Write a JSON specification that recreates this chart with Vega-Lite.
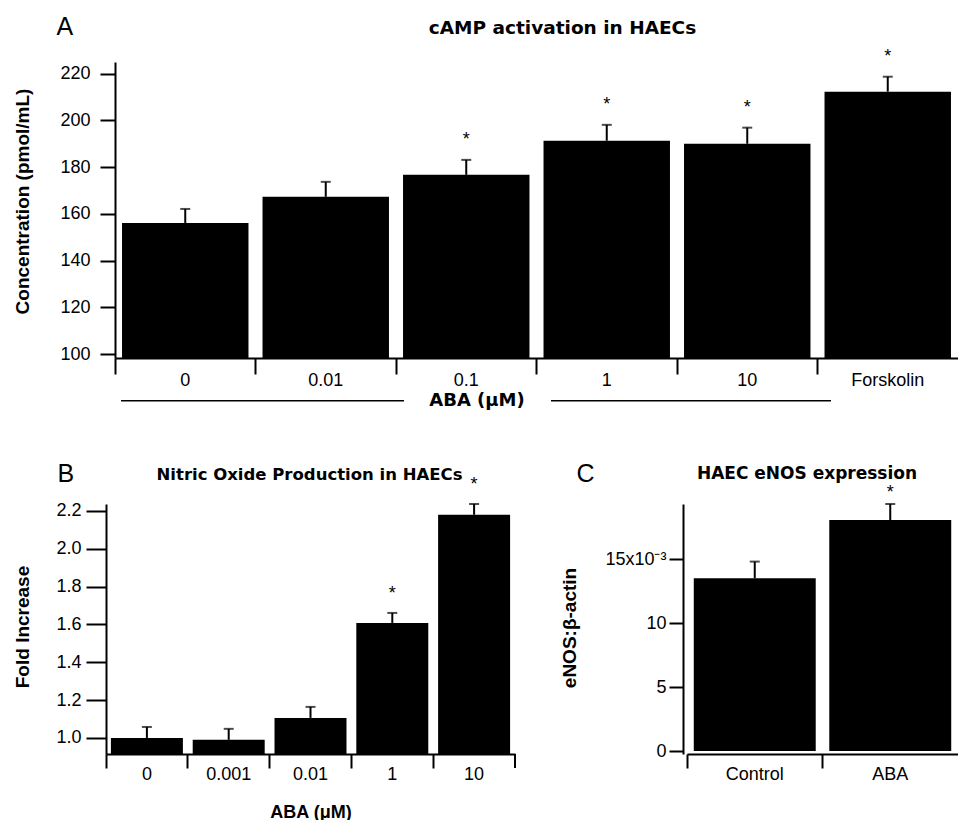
{
  "$schema": "https://vega.github.io/schema/vega-lite/v6.json",
  "padding": {"left": 12, "top": 14, "right": 0, "bottom": 0},
  "background": "white",
  "config": {
    "font": "Liberation Sans",
    "view": {"stroke": null},
    "axis": {"grid": false, "domainColor": "black", "tickColor": "black", "labelColor": "black", "titleColor": "black", "domainWidth": 2, "tickWidth": 2, "labelFont": "Liberation Sans", "labelFontSize": 18, "titleFont": "Liberation Sans", "titleFontSize": 19, "titleFontWeight": "bold"}
  },
  "columns": 1,
  "align": "none",
  "spacing": 52,
  "concat": [
    {
      "width": 843,
      "height": 296,
      "data": {"values": [
        {"dose": "0", "mean": 156.1, "hi": 162.1, "sig": ""},
        {"dose": "0.01", "mean": 167.3, "hi": 173.7, "sig": ""},
        {"dose": "0.1", "mean": 176.7, "hi": 183.1, "sig": "*"},
        {"dose": "1", "mean": 191.3, "hi": 198.1, "sig": "*"},
        {"dose": "10", "mean": 190.0, "hi": 196.9, "sig": "*"},
        {"dose": "Forskolin", "mean": 212.3, "hi": 218.7, "sig": "*"}
      ]},
      "layer": [
        {"mark": {"type": "bar", "color": "black", "width": {"band": 0.9}},
         "encoding": {
           "x": {"field": "dose", "type": "nominal", "sort": null, "scale": {"paddingInner": 0, "paddingOuter": 0},
             "axis": {"labelAngle": 0, "bandPosition": 0, "tickSize": 16, "labelPadding": -3, "title": "ABA (μM)", "titleFont": "DejaVu Sans", "titleFontSize": 18, "titleX": 361.5, "titleY": 33, "titleBaseline": "top", "titleAlign": "center"}},
           "y": {"field": "mean", "type": "quantitative", "scale": {"domain": [98.3, 225], "nice": false, "zero": false},
             "axis": {"values": [100, 120, 140, 160, 180, 200, 220], "tickSize": 15, "labelPadding": 10, "title": "Concentration (pmol/mL)", "titleX": -83, "titleY": 139, "titleBaseline": "bottom"}},
           "y2": {"datum": 98.3}}},
        {"mark": {"type": "rule", "color": "black", "strokeWidth": 2},
         "encoding": {
           "x": {"field": "dose", "type": "nominal", "sort": null, "scale": {"paddingInner": 0, "paddingOuter": 0}, "axis": null},
           "y": {"field": "mean", "type": "quantitative", "scale": {"domain": [98.3, 225], "nice": false, "zero": false}, "axis": null},
           "y2": {"field": "hi"}}},
        {"mark": {"type": "tick", "color": "black", "thickness": 2, "size": 10},
         "encoding": {
           "x": {"field": "dose", "type": "nominal", "sort": null, "scale": {"paddingInner": 0, "paddingOuter": 0}, "axis": null},
           "y": {"field": "hi", "type": "quantitative", "scale": {"domain": [98.3, 225], "nice": false, "zero": false}, "axis": null}}},
        {"mark": {"type": "text", "baseline": "alphabetic", "fontSize": 18, "dy": -15, "color": "black"},
         "encoding": {
           "x": {"field": "dose", "type": "nominal", "sort": null, "scale": {"paddingInner": 0, "paddingOuter": 0},
             "axis": {"orient": "top", "domain": false, "ticks": false, "labels": false, "title": "cAMP activation in HAECs", "titleFont": "DejaVu Sans", "titleFontSize": 18.5, "titleFontWeight": "bold", "titleX": 447, "titleY": -29, "titleAlign": "center", "titleBaseline": "alphabetic", "titleAngle": 0}},
           "y": {"field": "hi", "type": "quantitative", "scale": {"domain": [98.3, 225], "nice": false, "zero": false},
             "axis": {"orient": "left", "domain": false, "ticks": false, "labels": false, "title": "A", "titleFontSize": 25, "titleFontWeight": "normal", "titleAngle": 0, "titleX": -59, "titleY": -28, "titleAlign": "left", "titleBaseline": "alphabetic"}},
           "text": {"field": "sig"}}},
        {"data": {"values": [{"start": 0.043, "end": 2.057}, {"start": 3.103, "end": 5.096}]},
         "mark": {"type": "rule", "color": "black", "strokeWidth": 1.5},
         "encoding": {
           "x": {"field": "start", "type": "quantitative", "scale": {"domain": [0, 6], "nice": false, "zero": false}, "axis": null},
           "x2": {"field": "end"},
           "y": {"datum": 80, "scale": {"domain": [98.3, 225], "nice": false, "zero": false}, "axis": null}}}
      ],
      "resolve": {"scale": {"x": "independent"}, "axis": {"x": "independent", "y": "independent"}}
    },
    {
      "columns": 2,
      "align": "none",
      "spacing": 35,
      "concat": [
        {
          "width": 400,
          "height": 250,
          "data": {"values": [
            {"dose": "0", "mean": 1.0, "hi": 1.058, "sig": ""},
            {"dose": "0.001", "mean": 0.99, "hi": 1.048, "sig": ""},
            {"dose": "0.01", "mean": 1.106, "hi": 1.164, "sig": ""},
            {"dose": "1", "mean": 1.608, "hi": 1.661, "sig": "*"},
            {"dose": "10", "mean": 2.18, "hi": 2.237, "sig": "*"}
          ]},
          "layer": [
            {"mark": {"type": "bar", "color": "black", "width": {"band": 0.88}},
             "encoding": {
               "x": {"field": "dose", "type": "nominal", "sort": null, "scale": {"paddingInner": 0, "paddingOuter": 0, "range": [-9, 400]},
                 "axis": {"labelAngle": 0, "bandPosition": 0, "tickSize": 14, "labelPadding": -3, "title": "ABA (μM)", "titleFontSize": 18, "titleY": 49, "titleBaseline": "top"}},
               "y": {"field": "mean", "type": "quantitative", "scale": {"domain": [0.915, 2.237], "nice": false, "zero": false},
                 "axis": {"offset": 9, "values": [1.0, 1.2, 1.4, 1.6, 1.8, 2.0, 2.2], "format": ".1f", "tickSize": 20, "labelPadding": 5, "title": "Fold Increase", "titleX": -74, "titleY": 122.5, "titleBaseline": "bottom"}},
               "y2": {"datum": 0.915}}},
            {"mark": {"type": "rule", "color": "black", "strokeWidth": 2},
             "encoding": {
               "x": {"field": "dose", "type": "nominal", "sort": null, "axis": null},
               "y": {"field": "mean", "type": "quantitative", "axis": null},
               "y2": {"field": "hi"}}},
            {"mark": {"type": "tick", "color": "black", "thickness": 2, "size": 10},
             "encoding": {
               "x": {"field": "dose", "type": "nominal", "sort": null, "axis": null},
               "y": {"field": "hi", "type": "quantitative", "axis": null}}},
            {"mark": {"type": "rule", "color": "black", "strokeWidth": 2},
             "encoding": {
               "x": {"datum": "10", "bandPosition": 1, "axis": null},
               "y": {"datum": 0.915, "scale": {"domain": [0.915, 2.237], "nice": false, "zero": false}, "axis": null},
               "y2": {"datum": 0.841}}},
            {"mark": {"type": "text", "baseline": "alphabetic", "fontSize": 18, "dy": -14, "color": "black"},
             "encoding": {
               "x": {"field": "dose", "type": "nominal", "sort": null,
                 "axis": {"orient": "top", "domain": false, "ticks": false, "labels": false, "title": "Nitric Oxide Production in HAECs", "titleFont": "DejaVu Sans", "titleFontSize": 16.5, "titleFontWeight": "bold", "titleX": 194, "titleY": -25, "titleAlign": "center", "titleBaseline": "alphabetic", "titleAngle": 0}},
               "y": {"field": "hi", "type": "quantitative",
                 "axis": {"orient": "left", "domain": false, "ticks": false, "labels": false, "title": "B", "titleFontSize": 25, "titleFontWeight": "normal", "titleAngle": 0, "titleX": -58, "titleY": -23, "titleAlign": "left", "titleBaseline": "alphabetic"}},
               "text": {"field": "sig"}}}
          ],
          "resolve": {"axis": {"x": "independent", "y": "independent"}}
        },
        {
          "width": 275,
          "height": 250,
          "data": {"values": [
            {"group": "Control", "mean": 0.0135, "hi": 0.0148, "sig": ""},
            {"group": "ABA", "mean": 0.01805, "hi": 0.0193, "sig": "*"}
          ]},
          "layer": [
            {"mark": {"type": "bar", "color": "black", "width": {"band": 0.9}},
             "encoding": {
               "x": {"field": "group", "type": "nominal", "sort": null, "scale": {"paddingInner": 0, "paddingOuter": 0, "range": [4, 275]},
                 "axis": {"labelAngle": 0, "bandPosition": 0, "tickSize": 14, "labelPadding": -3, "title": null}},
               "y": {"field": "mean", "type": "quantitative", "scale": {"domain": [-0.000234, 0.0193], "nice": false, "zero": false},
                 "axis": {"values": [0, 0.005, 0.01, 0.015], "labelExpr": "datum.value > 0.0149 ? '15x10⁻³' : format(datum.value * 1000, '.0f')", "tickSize": 14, "labelPadding": 3, "title": "eNOS:β-actin", "titleX": -104, "titleY": 123.5, "titleBaseline": "bottom"}},
               "y2": {"datum": 0}}},
            {"mark": {"type": "rule", "color": "black", "strokeWidth": 2},
             "encoding": {
               "x": {"field": "group", "type": "nominal", "sort": null, "axis": null},
               "y": {"field": "mean", "type": "quantitative", "axis": null},
               "y2": {"field": "hi"}}},
            {"mark": {"type": "tick", "color": "black", "thickness": 2, "size": 10},
             "encoding": {
               "x": {"field": "group", "type": "nominal", "sort": null, "axis": null},
               "y": {"field": "hi", "type": "quantitative", "axis": null}}},
            {"mark": {"type": "text", "baseline": "alphabetic", "fontSize": 18, "dy": -6, "color": "black"},
             "encoding": {
               "x": {"field": "group", "type": "nominal", "sort": null,
                 "axis": {"orient": "top", "domain": false, "ticks": false, "labels": false, "title": "HAEC eNOS expression", "titleFont": "DejaVu Sans", "titleFontSize": 17, "titleFontWeight": "bold", "titleX": 123.5, "titleY": -26, "titleAlign": "center", "titleBaseline": "alphabetic", "titleAngle": 0}},
               "y": {"field": "hi", "type": "quantitative",
                 "axis": {"orient": "left", "domain": false, "ticks": false, "labels": false, "title": "C", "titleFontSize": 25, "titleFontWeight": "normal", "titleAngle": 0, "titleX": -107, "titleY": -23, "titleAlign": "left", "titleBaseline": "alphabetic"}},
               "text": {"field": "sig"}}}
          ],
          "resolve": {"axis": {"x": "independent", "y": "independent"}}
        }
      ]
    }
  ]
}
